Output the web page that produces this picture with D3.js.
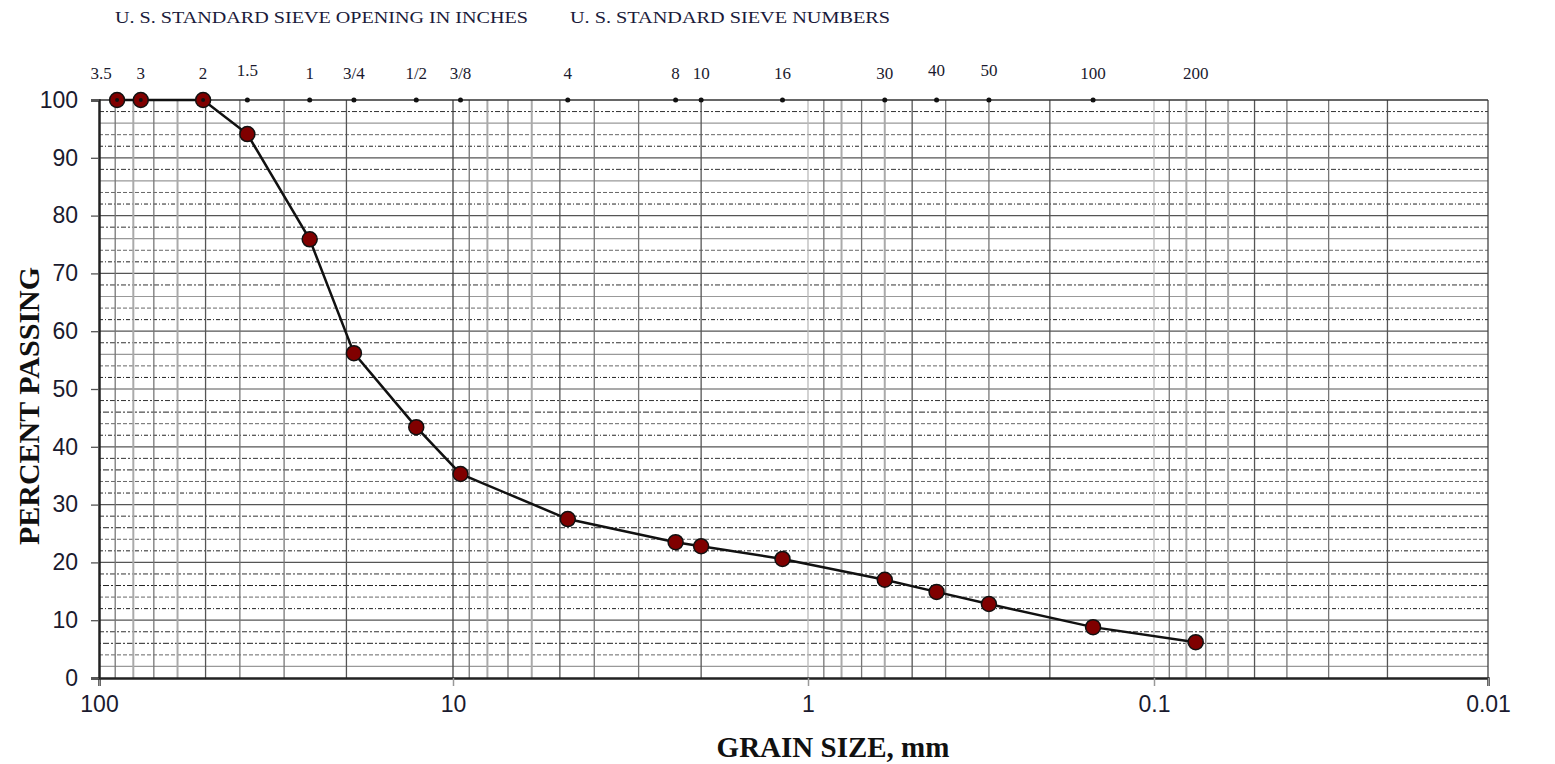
<!DOCTYPE html>
<html>
<head>
<meta charset="utf-8">
<script src="https://cdn.jsdelivr.net/npm/d3@7"></script>
<style>
  body { margin: 0; background: #fff; }
  svg { display: block; }
</style>
</head>
<body>
<script>
// sieve data (opening in mm, label, percent passing)
var sieveLabels = ["3.5", "3", "2", "1.5", "1", "3/4", "1/2", "3/8", "4", "8", "10", "16", "30", "40", "50", "100", "200"];
var sieveSizes  = [88.9, 76.2, 50.8, 38.1, 25.4, 19.05, 12.7, 9.525, 4.75, 2.36, 2.0, 1.18, 0.6, 0.425, 0.3, 0.15, 0.075];
var passing     = [100, 100, 100, 94.1, 75.9, 56.2, 43.4, 35.3, 27.5, 23.5, 22.8, 20.6, 17.0, 14.9, 12.8, 8.8, 6.2];
var xTicks      = [100, 10, 1, 0.1, 0.01];
var xTickLabels = ["100", "10", "1", "0.1", "0.01"];
var yTicks      = [0, 10, 20, 30, 40, 50, 60, 70, 80, 90, 100];

var width = 1555, height = 764;
var margin = {top: 100, right: 67, bottom: 86, left: 99};

var data = sieveSizes.map(function(s, i) {
  return {size: s, label: sieveLabels[i], value: passing[i]};
});

var svg = d3.select("body").append("svg")
    .attr("width", width)
    .attr("height", height);

// log scale, reversed (large grains on the left)
var x = d3.scaleLog()
    .domain(xTicks)
    .range([margin.left, 453, 808, 1154, width - margin.right]);

var y = d3.scaleLinear()
    .domain([0, 100])
    .range([height - margin.bottom, margin.top]);

var serif = "'Liberation Serif', 'Times New Roman', serif";
var sans = "'Liberation Sans', Arial, sans-serif";

//horizontal grid, every 2 %
var hStyle = function(v) {
  var r = v % 10;
  if (r === 0) return {c: "#555", w: 1.2, d: null};
  if (r === 6 && v > 50) return {c: "#999", w: 1.2, d: null};
  if (r === 2 && v < 10) return {c: "#999", w: 1.2, d: null};
  if (r === 6) return {c: "#222", w: 1, d: "2,2,6,2"};
  if (r === 8) return {c: "#333", w: 1, d: "5,2,2,2"};
  if (r === 2) return {c: "#222", w: 1, d: "4,2,1,2"};
  return {c: "#666", w: 1, d: "4,2"};
};
var hLines = d3.range(2, 100, 2);
svg.append("g")
  .selectAll("line")
  .data(hLines)
  .join("line")
    .attr("x1", margin.left)
    .attr("x2", width - margin.right)
    .attr("y1", d => y(d))
    .attr("y2", d => y(d))
    .attr("stroke", d => hStyle(d).c)
    .attr("stroke-width", d => hStyle(d).w)
    .attr("stroke-dasharray", d => hStyle(d).d);

// vertical grid, 1..9 per decade
var vLines = [];
[10, 1, 0.1, 0.01].forEach(function(dec) {
  for (var k = 1; k <= 9; k++) vLines.push({v: +(dec * k).toPrecision(3), k: k});
});
vLines = vLines.filter(d => d.v < 100);
function vColor(d) {
  if (d.k === 1) return d.v === 10 || d.v === 0.01 ? "#444" : "#bbb";
  if (d.k === 5 || d.k === 2) return "#555";
  if (d.k === 8 || d.k === 6) return "#aaa";
  return "#777";
}
svg.append("g")
  .selectAll("line")
  .data(vLines)
  .join("line")
    .attr("x1", d => x(d.v))
    .attr("x2", d => x(d.v))
    .attr("y1", margin.top)
    .attr("y2", height - margin.bottom)
    .attr("stroke", vColor)
    .attr("stroke-width", d => (d.k === 8 || d.k === 6) ? 2 : 1.3);

// top border
svg.append("line")
    .attr("x1", margin.left).attr("x2", width - margin.right)
    .attr("y1", margin.top).attr("y2", margin.top)
    .attr("stroke", "#333").attr("stroke-width", 1.5);

// axes
var xAxis = g => g
    .attr("transform", `translate(0,${height - margin.bottom})`)
    .call(d3.axisBottom(x).tickValues(xTicks)
      .tickFormat((d, i) => xTickLabels[i]).tickSize(8).tickPadding(10))
    .call(g => g.select(".domain").attr("stroke", "#222").attr("stroke-width", 2.5))
    .call(g => g.selectAll(".tick line").attr("stroke", "#999").attr("stroke-width", 1.5))
    .call(g => g.selectAll("text").attr("font-family", sans).attr("font-size", 23).attr("fill", "#1a1a2e"));

var yAxis = g => g
    .attr("transform", `translate(${margin.left},0)`)
    .call(d3.axisLeft(y).tickValues(yTicks).tickSize(8).tickPadding(13))
    .call(g => g.select(".domain").attr("stroke", "#222").attr("stroke-width", 2.5))
    .call(g => g.selectAll(".tick line").attr("stroke", "#555").attr("stroke-width", 1.3))
    .call(g => g.selectAll("text").attr("font-family", sans).attr("font-size", 23).attr("fill", "#1a1a2e"));

svg.append("g").call(xAxis);
svg.append("g").call(yAxis);

// sieve markers along the top
svg.append("g")
  .selectAll("circle")
  .data(data.filter(d => d.label !== "200"))
  .join("circle")
    .attr("cx", d => x(d.size))
    .attr("cy", margin.top)
    .attr("r", 2.5)
    .attr("fill", "#111");

svg.append("g")
  .selectAll("text")
  .data(data)
  .join("text")
    .attr("x", d => x(d.size) + (d.label === "3.5" ? -16 : 0))
    .attr("y", d => (d.label === "1.5" || d.label === "40" || d.label === "50") ? 76 : 79)
    .attr("text-anchor", "middle")
    .attr("font-family", serif)
    .attr("font-size", 17)
    .attr("fill", "#1a1a2e")
    .text(d => d.label);

// curve
var line = d3.line()
    .x(d => x(d.size))
    .y(d => y(d.value));

svg.append("path")
    .datum(data)
    .attr("fill", "none")
    .attr("stroke", "#111")
    .attr("stroke-width", 2.5)
    .attr("d", line);

svg.append("g")
  .selectAll("circle")
  .data(data)
  .join("circle")
    .attr("cx", d => x(d.size))
    .attr("cy", d => y(d.value))
    .attr("r", 7.5)
    .attr("fill", "#800000")
    .attr("stroke", "#111")
    .attr("stroke-width", 1.5);

// small dots inside markers that sit on the top line
svg.append("g")
  .selectAll("circle")
  .data(data.filter(d => d.value === 100))
  .join("circle")
    .attr("cx", d => x(d.size))
    .attr("cy", margin.top)
    .attr("r", 2)
    .attr("fill", "#111");

// titles
svg.append("text")
    .attr("x", 115).attr("y", 23)
    .attr("font-family", serif).attr("font-size", 17)
    .attr("textLength", 413).attr("lengthAdjust", "spacingAndGlyphs")
    .attr("fill", "#1a1a3a")
    .text("U. S. STANDARD SIEVE OPENING IN INCHES");

svg.append("text")
    .attr("x", 570).attr("y", 23)
    .attr("font-family", serif).attr("font-size", 17)
    .attr("textLength", 320).attr("lengthAdjust", "spacingAndGlyphs")
    .attr("fill", "#1a1a3a")
    .text("U. S. STANDARD SIEVE NUMBERS");

svg.append("text")
    .attr("x", 833).attr("y", 757)
    .attr("text-anchor", "middle")
    .attr("font-family", serif).attr("font-size", 29).attr("font-weight", "bold")
    .attr("fill", "#111")
    .text("GRAIN SIZE, mm");

svg.append("text")
    .attr("transform", "translate(39,406) rotate(-90)")
    .attr("text-anchor", "middle")
    .attr("font-family", serif).attr("font-size", 30).attr("font-weight", "bold")
    .attr("fill", "#111")
    .text("PERCENT PASSING");
</script>
</body>
</html>
